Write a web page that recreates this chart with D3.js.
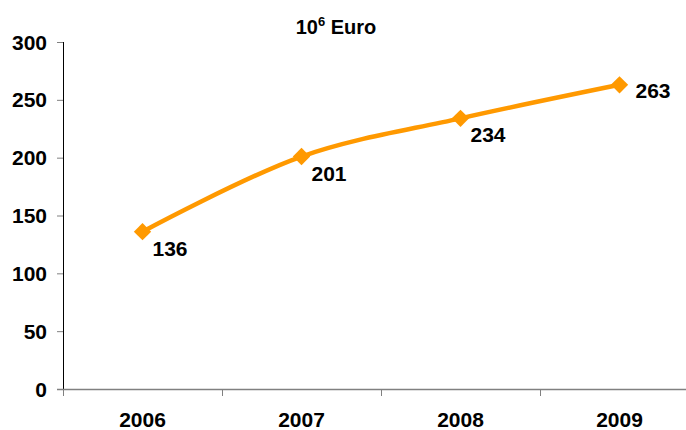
<!DOCTYPE html>
<html>
<head>
<meta charset="utf-8">
<script src="https://cdn.jsdelivr.net/npm/d3@7"></script>
<style>
  body { margin: 0; background: #fff; }
  text { font-family: Arial, "Liberation Sans", sans-serif; font-weight: bold; fill: #000; }
</style>
</head>
<body>
<svg id="chart" width="686" height="430"></svg>
<script>
let years = ['2006', '2007', '2008', '2009']
let values = [136, 201, 234, 263]
let yTicks = [0, 50, 100, 150, 200, 250, 300]

let svg = d3.select('#chart')
let plotLeft = 63, plotTop = 42, plotBottom = 389, plotRight = 699

let x = d3.scaleBand().domain(years).range([plotLeft, plotRight])
let y = d3.scaleLinear().domain([0, 300]).range([plotBottom, plotTop])

// y axis
svg.append('line')
    .attr('x1', plotLeft + 0.5).attr('x2', plotLeft + 0.5)
    .attr('y1', y(300)).attr('y2', y(0))
    .attr('stroke', '#000').attr('stroke-width', 1)
svg.selectAll('.ytick')
    .data(yTicks)
    .enter()
    .append('line')
    .attr('x1', plotLeft - 6).attr('x2', plotLeft)
    .attr('y1', d => y(d) + 0.5).attr('y2', d => y(d) + 0.5)
    .attr('stroke', '#808080')
svg.selectAll('.ylab')
    .data(yTicks)
    .enter()
    .append('text')
    .attr('x', 47)
    .attr('y', d => y(d) + 7.5)
    .attr('text-anchor', 'end')
    .attr('font-size', '21px')
    .text(d => d)

// x axis
svg.append('line')
    .attr('x1', plotLeft - 6).attr('x2', 686)
    .attr('y1', plotBottom + 0.5).attr('y2', plotBottom + 0.5)
    .attr('stroke', '#808080').attr('stroke-width', 1.5)
let xTickPos = years.map(d => x(d)).concat([x.range()[1]])
svg.selectAll('.xtick')
    .data(xTickPos)
    .enter()
    .append('line')
    .attr('x1', d => d + 0.5).attr('x2', d => d + 0.5)
    .attr('y1', plotBottom).attr('y2', plotBottom + 7)
    .attr('stroke', '#808080')
svg.selectAll('.xlab')
    .data(years)
    .enter()
    .append('text')
    .attr('x', d => x(d) + x.bandwidth() / 2)
    .attr('y', 427)
    .attr('text-anchor', 'middle')
    .attr('font-size', '21px')
    .text(d => d)

// title
let title = svg.append('text')
    .attr('x', 336).attr('y', 34)
    .attr('text-anchor', 'middle')
    .attr('font-size', '20px')
title.append('tspan').text('10')
title.append('tspan').attr('font-size', '13px').attr('dy', -8).text('6')
title.append('tspan').attr('dy', 8).text(' Euro')

// line
let pts = years.map((d, i) => [x(d) + x.bandwidth() / 2, y(values[i])])
svg.append('path')
    .attr('d', d3.line().curve(d3.curveCatmullRom.alpha(0.5))(pts))
    .attr('fill', 'none')
    .attr('stroke', '#FF9900')
    .attr('stroke-width', 4.5)

svg.selectAll('.marker')
    .data(pts)
    .enter()
    .append('path')
    .attr('d', d3.symbol().type(d3.symbolSquare).size(150))
    .attr('transform', d => 'translate(' + d[0] + ',' + d[1] + ') rotate(45)')
    .attr('fill', '#FF9900')

svg.selectAll('.vlab')
    .data(values)
    .enter()
    .append('text')
    .attr('x', (d, i) => pts[i][0] + (i === values.length - 1 ? 16 : 10))
    .attr('y', (d, i) => pts[i][1] + (i === values.length - 1 ? 13 : 24))
    .attr('font-size', '21px')
    .text(d => d)
</script>
</body>
</html>
